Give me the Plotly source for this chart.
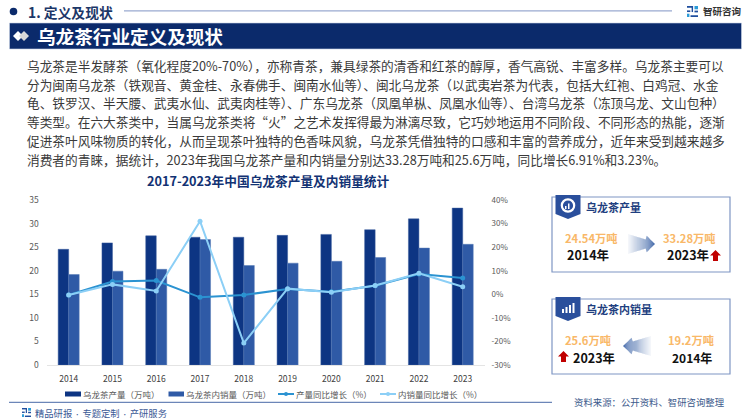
import plotly.graph_objects as go

FONT = "Noto Sans CJK SC"
W, H = 750, 420
NAVY = "#0B2A6B"

years = ["2014", "2015", "2016", "2017", "2018", "2019", "2020", "2021", "2022", "2023"]
output_vals = [24.54, 25.9, 27.4, 27.1, 27.1, 27.5, 27.7, 28.7, 31.0, 33.28]
sales_vals = [19.2, 19.9, 20.3, 26.6, 21.1, 21.6, 22.0, 22.8, 24.8, 25.6]
output_growth = [-0.3, 5.4, 5.8, -1.3, -0.3, 2.2, 1.1, 3.6, 8.6, 6.91]
sales_growth = [-0.3, 4.2, 1.4, 31.0, -20.7, 2.4, 0.9, 3.7, 8.9, 3.23]
left_ticks = [0, 5, 10, 15, 20, 25, 30, 35]
right_ticks = [-30, -20, -10, 0, 10, 20, 30, 40]
right_labels = ["-30%", "-20%", "-10%", "0%", "10%", "20%", "30%", "40%"]
series_names = ["乌龙茶产量（万吨）", "乌龙茶内销量（万吨）", "产量同比增长（%）", "内销量同比增长（%）"]
series_colors = ["#0D3583", "#2F5AA6", "#2B93D1", "#8CCFF6"]

body_lines = [
    "乌龙茶是半发酵茶（氧化程度20%-70%），亦称青茶，兼具绿茶的清香和红茶的醇厚，香气高锐、丰富多样。乌龙茶主要可以",
    "分为闽南乌龙茶（铁观音、黄金桂、永春佛手、闽南水仙等）、闽北乌龙茶（以武夷岩茶为代表，包括大红袍、白鸡冠、水金",
    "龟、铁罗汉、半天腰、武夷水仙、武夷肉桂等）、广东乌龙茶（凤凰单枞、凤凰水仙等）、台湾乌龙茶（冻顶乌龙、文山包种）",
    "等类型。在六大茶类中，当属乌龙茶类将“火”之艺术发挥得最为淋漓尽致，它巧妙地运用不同阶段、不同形态的热能，逐渐",
    "促进茶叶风味物质的转化，从而呈现茶叶独特的色香味风貌，乌龙茶凭借独特的口感和丰富的营养成分，近年来受到越来越多",
    "消费者的青睐，据统计，2023年我国乌龙茶产量和内销量分别达33.28万吨和25.6万吨，同比增长6.91%和3.23%。",
]


def px(x):
    return x / W


def py(y):
    return 1 - y / H


def text(x, y, s, size, color, bold=False, anchor="left"):
    if anchor == "left":
        x -= 1.5  # annotation box padding
    fig.add_annotation(
        x=px(x), y=py(y), xref="paper", yref="paper", showarrow=False,
        text=f"<b>{s}</b>" if bold else s, xanchor=anchor, yanchor="middle",
        font=dict(family=FONT, size=size, color=color),
    )


def poly(points, color, opacity=1.0):
    path = "M" + " L".join(f"{px(x):.5f},{py(y):.5f}" for x, y in points) + " Z"
    fig.add_shape(type="path", path=path, xref="paper", yref="paper",
                  fillcolor=color, opacity=opacity, line_width=0)


def box(x0, y0, x1, y1, fill=None, line=None, lw=1.0):
    fig.add_shape(type="rect", x0=px(x0), x1=px(x1), y0=py(y0), y1=py(y1),
                  xref="paper", yref="paper", fillcolor=fill or "rgba(0,0,0,0)",
                  line=dict(color=line or "rgba(0,0,0,0)", width=lw if line else 0))


def dot(cx, cy, r, fill=None, line=None, lw=1.0):
    fig.add_shape(type="circle", x0=px(cx - r), x1=px(cx + r), y0=py(cy - r), y1=py(cy + r),
                  xref="paper", yref="paper", fillcolor=fill or "rgba(0,0,0,0)",
                  line=dict(color=line or "rgba(0,0,0,0)", width=lw if line else 0))


def hline(x0, x1, y, color, lw=1.0):
    fig.add_shape(type="line", x0=px(x0), x1=px(x1), y0=py(y), y1=py(y),
                  xref="paper", yref="paper", line=dict(color=color, width=lw))


def logo(x, y, s):
    box(x, y, x + s * 0.55, y + s * 0.16, fill="#1F4E9E")
    box(x + s * 0.42, y, x + s * 0.55, y + s * 0.55, fill="#1F4E9E")
    box(x, y + s * 0.4, x + s * 0.3, y + s * 0.55, fill="#1F4E9E")
    box(x, y + s * 0.7, x + s * 0.22, y + s, fill="#2B9BD8")
    box(x + s * 0.68, y, x + s, y + s * 0.3, fill="#2B9BD8")
    box(x + s * 0.68, y + s * 0.42, x + s, y + s * 0.58, fill="#1F4E9E")
    box(x + s * 0.32, y + s * 0.84, x + s, y + s, fill="#1F4E9E")


def grad_arrow(x_tail, x_tip, cy):
    # fades out towards the tail, works in both directions
    n = 26
    length = x_tip - x_tail

    def half(t):
        if t < 0.66:
            return 10 - 5.5 * t / 0.66
        if t < 0.68:
            return 8.5
        return 8.5 * (1 - t) / 0.32

    for i in range(n):
        t0, t1 = i / n, (i + 1) / n
        x0, x1 = x_tail + length * t0, x_tail + length * t1
        h0, h1 = half(t0), half(t1)
        poly([(x0, cy - h0), (x1, cy - h1), (x1, cy + h1), (x0, cy + h0)],
             "#3F66A8", opacity=0.04 + 0.96 * t1 ** 1.2)


def red_arrow(x, y):
    poly([(x + 5.5, y), (x + 11, y + 5.5), (x + 8, y + 5.5), (x + 8, y + 11),
          (x + 3, y + 11), (x + 3, y + 5.5), (x, y + 5.5)], "#C00000")


def badge(x, y0, y1):
    poly([(x, y0), (x + 25, y0), (x + 25, y1 - 5), (x + 12.5, y1), (x, y1 - 5)], "#2A4F9C")


fig = go.Figure()
fig.add_trace(go.Bar(x=years, y=output_vals, name=series_names[0], marker=dict(color=series_colors[0], line=dict(color="#3D5F9F", width=0.5)), yaxis="y"))
fig.add_trace(go.Bar(x=years, y=sales_vals, name=series_names[1], marker=dict(color=series_colors[1], line=dict(color="#5578B5", width=0.5)), yaxis="y"))
fig.add_trace(go.Scatter(x=years, y=output_growth, name=series_names[2], mode="lines+markers",
                         line=dict(color=series_colors[2], width=2), marker=dict(size=5), yaxis="y2"))
fig.add_trace(go.Scatter(x=years, y=sales_growth, name=series_names[3], mode="lines+markers",
                         line=dict(color=series_colors[3], width=2), marker=dict(size=5), yaxis="y2"))

fig.update_layout(
    width=W, height=H, autosize=False, margin=dict(l=0, r=0, t=0, b=0), showlegend=False,
    paper_bgcolor="white", plot_bgcolor="white", font=dict(family=FONT, size=8.5, color="#595959"),
    barmode="group", bargap=0.52, bargroupgap=0,
    xaxis=dict(domain=[px(46.8), px(484.6)], anchor="y", range=[-0.5, 9.5], showgrid=False, showline=True, linecolor="#E4E4E4",
               ticks="", tickfont=dict(size=8.5, color="#404040"), ticklabelstandoff=6, automargin=False),
    yaxis=dict(domain=[py(365), py(200)], range=[0, 35], tickvals=left_ticks, showgrid=False, zeroline=False,
               tickfont=dict(size=8.5, color="#595959"), ticks="", ticklabelstandoff=7, automargin=False),
    yaxis2=dict(overlaying="y", side="right", anchor="x", range=[-30, 40], tickvals=right_ticks, ticktext=right_labels,
                showgrid=False, zeroline=False, ticks="", tickfont=dict(size=8, color="#595959"),
                ticklabelstandoff=6, automargin=False),
)

# header
dot(13.5, 11.5, 3.8, fill=NAVY)
text(27, 12, "1. 定义及现状", 13.8, "#1C3768", bold=True)
hline(124, 672, 10.8, "#9AAAD0", 1.2)
logo(687, 6, 11)
text(702, 10.5, "智研咨询", 9.5, "#333333", bold=True)
box(9.5, 23, 741.5, 49, fill=NAVY, line="#C9D3E6", lw=0.6)
poly([(13, 36), (18, 31), (23, 36), (18, 41)], "#FFFFFF")
poly([(19, 36), (24, 31), (29, 36), (24, 41)], "#D9D9D9")
text(36, 35.5, "乌龙茶行业定义及现状", 18.6, "#FFFFFF", bold=True)

for i, line in enumerate(body_lines):
    text(26, 65.5 + i * 18.7, line, 12.7, "#3A3A3A")

text(268, 180, "2017-2023年中国乌龙茶产量及内销量统计", 12.7, "#123273", bold=True, anchor="center")

# hand placed legend, swatches are shorter than plotly's
legend_x = [(65, 82), (168.5, 185), (278, 295), (380, 397)]
for i, (x0, x1) in enumerate(legend_x):
    if i < 2:
        box(x0, 391.5, x1 - 1, 396.5, fill=series_colors[i])
    else:
        hline(x0, x1 - 1, 394, series_colors[i], 2)
        dot((x0 + x1 - 1) / 2, 394, 2, fill=series_colors[i])
    text(x1, 394, series_names[i], 8.5, "#595959")

# production card
box(552, 197, 730, 272, line="#7F96C4", lw=1.2)
badge(555.5, 195, 219)
dot(568, 205.5, 6.2, line="#FFFFFF", lw=2.2)
box(565, 206, 566.5, 209, fill="#FFFFFF")
box(568, 203.5, 569.5, 209, fill="#FFFFFF")
text(585, 207, "乌龙茶产量", 11, "#1F3F80", bold=True)
text(564, 238, "24.54万吨", 11.2, "#F9B868", bold=True)
text(566, 255, "2014年", 12.5, "#111111", bold=True)
grad_arrow(628, 655, 244)
text(662, 238, "33.28万吨", 11.2, "#F9B868", bold=True)
text(666, 255, "2023年", 12.5, "#111111", bold=True)
red_arrow(710, 250)

# domestic sales card
box(552, 299, 730, 374, line="#7F96C4", lw=1.2)
badge(555.5, 297, 321)
box(562, 309, 564, 313, fill="#FFFFFF")
box(565.5, 307, 567.5, 313, fill="#FFFFFF")
box(569, 305, 571, 313, fill="#FFFFFF")
box(572.5, 303, 574.5, 313, fill="#FFFFFF")
text(585, 309, "乌龙茶内销量", 11, "#1F3F80", bold=True)
text(564, 340, "25.6万吨", 11.2, "#F9B868", bold=True)
text(572, 357, "2023年", 12.5, "#111111", bold=True)
red_arrow(558, 351)
grad_arrow(651, 623, 346)
text(667, 340, "19.2万吨", 11.2, "#F9B868", bold=True)
text(671, 357, "2014年", 12, "#111111", bold=True)

# footer
hline(9, 552, 402.3, "#6C86B8", 1.2)
logo(22, 408, 9)
sep = "<span style='font-size:6px'>·</span>"
text(34, 413, f"精品研报 {sep} 专题定制 {sep} 产研服务", 9.3, "#3C5A96")
text(573, 402, "资料来源：公开资料、智研咨询整理", 9.4, "#3C5A8C")

fig.write_html("out.html", config={"displayModeBar": False},
               post_script="document.body.style.margin='0';document.body.style.overflow='hidden';")
